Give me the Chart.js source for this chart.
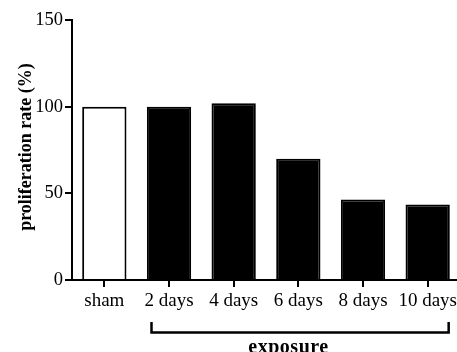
<!DOCTYPE html>
<html>
<head>
<meta charset="utf-8">
<script src="https://cdn.jsdelivr.net/npm/chart.js@4/dist/chart.umd.min.js"></script>
<style>
html,body{margin:0;padding:0;background:#fff;overflow:hidden;}
#wrap{width:460px;height:352px;}
</style>
</head>
<body>
<div id="wrap"><canvas id="c" width="460" height="352"></canvas></div>
<script>
const categories = ["sham", "2 days", "4 days", "6 days", "8 days", "10 days"];
const proliferation = [100, 100, 102, 70, 46.5, 43.6];
const yTicks = [0, 50, 100, 150];
const yTitle = "proliferation rate (%)";
const groupLabel = "exposure";

const FONT = '"Liberation Serif", "Times New Roman", serif';

const annot = {
  id: 'annot',
  afterDraw(chart) {
    const ctx = chart.ctx;
    const xs = chart.scales.x;
    ctx.save();
    ctx.fillStyle = '#000';
    ctx.strokeStyle = '#000';
    // y title
    ctx.save();
    ctx.translate(26, 147);
    ctx.rotate(-Math.PI / 2);
    ctx.font = 'bold 18px ' + FONT;
    ctx.textAlign = 'center';
    ctx.textBaseline = 'middle';
    ctx.fillText(yTitle, 0, 0);
    ctx.restore();
    // bracket
    const l = xs.getPixelForValue(1) - 17.5;
    const r = xs.getPixelForValue(5) + 21;
    ctx.lineWidth = 2.5;
    ctx.beginPath();
    ctx.moveTo(l, 322);
    ctx.lineTo(l, 332.5);
    ctx.lineTo(r, 332.5);
    ctx.lineTo(r, 322);
    ctx.stroke();
    // group label
    ctx.font = 'bold 20px ' + FONT;
    ctx.letterSpacing = '0.5px';
    ctx.textAlign = 'center';
    ctx.textBaseline = 'alphabetic';
    ctx.fillText(groupLabel, 288.5, 352.5);
    ctx.restore();
  }
};

new Chart(document.getElementById('c'), {
  type: 'bar',
  data: {
    labels: categories,
    datasets: [{
      data: proliferation,
      backgroundColor: (c) => c.dataIndex === 0 ? '#ffffff' : '#000000',
      borderColor: '#000000',
      borderWidth: 2,
      categoryPercentage: 1,
      barPercentage: 0.685
    }]
  },
  options: {
    responsive: false,
    animation: false,
    devicePixelRatio: 1,
    layout: { padding: { left: 0, right: 0, top: 20, bottom: 0 } },
    plugins: { legend: { display: false }, tooltip: { enabled: false } },
    scales: {
      x: {
        offset: true,
        afterFit(s) { s.height = 72; },
        border: { color: '#000', width: 2 },
        grid: { offset: false, drawOnChartArea: false, drawTicks: true, tickLength: 7, color: '#000', lineWidth: 2 },
        ticks: { color: '#000', font: { family: FONT, size: 19 }, padding: 3, maxRotation: 0, autoSkip: false }
      },
      y: {
        min: 0, max: 150,
        afterFit(s) { s.width = 72; },
        afterBuildTicks(s) { s.ticks = yTicks.map(v => ({ value: v })); },
        border: { color: '#000', width: 2 },
        grid: { drawOnChartArea: false, drawTicks: true, tickLength: 7, color: '#000', lineWidth: 2 },
        ticks: { color: '#000', font: { family: FONT, size: 18.5 }, padding: 2 }
      }
    }
  },
  plugins: [annot]
});
</script>
</body>
</html>
